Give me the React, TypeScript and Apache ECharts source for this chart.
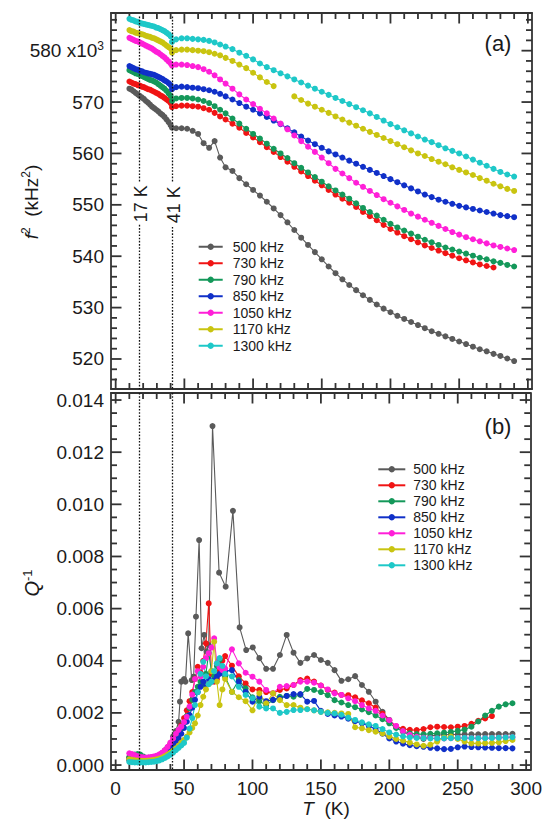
import React, { useEffect, useRef } from 'react';
import * as echarts from 'echarts';

const FONT = '"Liberation Sans", Arial, Helvetica, sans-serif';
const INK = '#1a1a1a';
const AX = '#333333';

const seriesNames = ['500 kHz', '730 kHz', '790 kHz', '850 kHz', '1050 kHz', '1170 kHz', '1300 kHz'];
const seriesColors = ['#5a5a5a', '#f01414', '#14985a', '#1030c8', '#ff1fd8', '#c9c410', '#1ec8c8'];

// ---------- panel (a): f^2 in 10^3 kHz^2 ----------
const tTop = [
  10, 11.5, 13, 14.5, 16, 17.5, 19, 20.5, 22, 23.5, 25, 26.5, 28, 29.5, 31, 32.5, 34, 35.5, 37, 38.5, 40, 41,
  44, 48, 52, 56, 60, 64, 68, 72, 76, 80, 85, 90, 95, 100, 105, 110, 115, 120, 125, 130, 135, 140, 145, 150,
  155, 160, 165, 170, 175, 180, 185, 190, 195, 200, 205, 210, 215, 220, 225, 230, 235, 240, 245, 250, 255, 260,
  265, 270, 275, 280, 285, 290,
];
const f2_500 = [
  572.6, 572.4, 572.1, 571.8, 571.5, 571.2, 570.9, 570.6, 570.2, 569.9, 569.5, 569.1, 568.8, 568.5, 568.2, 567.8, 567.5, 567.1, 566.6, 566.1, 565.5, 565.0,
  564.9, 564.9, 564.8, 564.4, 563.8, 562.0, 561.1, 562.4, 559.2, 557.3, 556.6, 555.2, 554.0, 552.9, 551.8, 550.6, 549.3, 548.0, 546.6, 545.1, 543.6, 542.2, 540.8, 539.4,
  538.0, 536.7, 535.5, 534.4, 533.4, 532.4, 531.5, 530.6, 529.8, 529.1, 528.4, 527.8, 527.2, 526.6, 526.0, 525.4, 524.9, 524.4, 523.9, 523.4, 522.9, 522.4,
  521.9, 521.5, 521.0, 520.6, 520.1, 519.6,
];
const f2_730 = [
  574.0, 573.8, 573.6, 573.5, 573.3, 573.2, 573.0, 572.9, 572.7, 572.5, 572.4, 572.2, 572.0, 571.8, 571.6, 571.3, 571.1, 570.8, 570.5, 570.2, 569.8, 569.0,
  569.2, 569.3, 569.3, 569.2, 569.1, 568.8, 568.5, 567.9, 567.2, 566.6, 565.8, 565.0, 564.0, 563.1, 562.2, 561.2, 560.3, 559.3, 558.4, 557.4, 556.5, 555.6, 554.7, 553.8,
  552.9, 552.0, 551.2, 550.4, 549.6, 548.6, 547.8, 547.0, 546.1, 545.3, 544.6, 543.9, 543.3, 542.7, 542.1, 541.6, 541.1, 540.6, 540.1, 539.6, 539.2, 538.8,
  538.4, 538.1, 537.8, null, null, null,
];
const f2_790 = [
  576.2, 576.0, 575.8, 575.6, 575.5, 575.3, 575.1, 574.9, 574.7, 574.5, 574.3, 574.2, 574.0, 573.8, 573.5, 573.2, 572.9, 572.6, 572.2, 571.7, 571.2, 570.2,
  570.7, 570.8, 570.8, 570.7, 570.5, 570.2, 569.8, 569.2, 568.5, 567.8, 566.8, 565.8, 564.8, 563.8, 562.9, 561.9, 560.9, 560.0, 559.1, 558.1, 557.2, 556.3, 555.4, 554.5,
  553.6, 552.8, 552.0, 551.2, 550.3, 549.4, 548.6, 547.9, 547.1, 546.3, 545.6, 545.0, 544.4, 543.8, 543.2, 542.7, 542.2, 541.7, 541.3, 540.9, 540.5, 540.1,
  539.7, 539.4, 539.0, 538.7, 538.3, 538.0,
];
const f2_850 = [
  577.0, 576.8, 576.6, 576.4, 576.3, 576.1, 576.0, 575.8, 575.7, 575.6, 575.5, 575.4, 575.3, 575.1, 574.9, 574.7, 574.5, 574.2, 574.0, 573.7, 573.3, 572.5,
  572.9, 573.0, 572.9, 572.8, 572.7, 572.5, 572.3, 572.0, 571.6, 571.1, 570.5, 569.8, 569.1, 568.5, 567.8, 567.1, 566.4, 565.7, 564.9, 564.1, 563.3, 562.5, 561.8, 561.1,
  560.4, 559.8, 559.2, 558.6, 558.0, 557.4, 556.8, 556.2, 555.6, 555.0, 554.4, 553.8, 553.2, 552.6, 552.0, 551.5, 551.0, 550.6, 550.2, 549.8, 549.5, 549.2,
  548.9, 548.6, 548.3, 548.0, 547.8, 547.6,
];
const f2_1050 = [
  582.5, 582.3, 582.1, 581.9, 581.8, 581.6, 581.4, 581.2, 581.0, 580.8, 580.6, 580.4, 580.1, 579.8, 579.6, 579.3, 579.0, 578.7, 578.3, 577.9, 577.5, 577.1,
  577.3, 577.3, 577.2, 577.0, 576.8, 576.4, 575.9, 575.2, 574.4, 573.6, 572.6, 571.5, 570.5, 569.6, 568.7, 567.8, 566.8, 565.8, 564.7, 563.5, 562.4, 561.3, 560.3, 559.2,
  558.1, 557.0, 556.1, 555.2, 554.3, 553.5, 552.7, 551.9, 551.1, 550.4, 549.7, 549.0, 548.3, 547.7, 547.1, 546.5, 545.9, 545.3, 544.7, 544.2, 543.7, 543.3,
  542.9, 542.5, 542.1, 541.8, 541.5, 541.2,
];
const f2_1170 = [
  584.0, 583.8, 583.7, 583.5, 583.4, 583.3, 583.2, 583.1, 582.9, 582.8, 582.7, 582.5, 582.4, 582.2, 582.0, 581.8, 581.6, 581.3, 581.0, 580.7, 580.4, 579.6,
  580.1, 580.2, 580.2, 580.1, 580.0, 579.9, 579.7, 579.4, 579.1, 578.6, 578.0, 577.3, 576.6, 575.7, 574.8, 573.9, 573.1, null, null, 571.1, 570.4, 569.7, 569.1, 568.5,
  567.9, 567.2, 566.6, 566.0, 565.4, 564.8, 564.2, 563.6, 563.0, 562.4, 561.8, 561.2, 560.6, 560.0, 559.5, 558.9, 558.4, 557.9, 557.3, 556.8, 556.3, 555.8,
  555.2, 554.7, 554.1, 553.6, 553.1, 552.7,
];
const f2_1300 = [
  586.2, 586.0, 585.9, 585.7, 585.6, 585.4, 585.3, 585.2, 585.1, 585.0, 584.9, 584.8, 584.7, 584.5, 584.4, 584.2, 584.0, 583.8, 583.5, 583.2, 582.8, 581.7,
  582.2, 582.4, 582.4, 582.3, 582.2, 582.1, 581.9, 581.6, 581.2, 580.8, 580.3, 579.6, 579.0, 578.3, 577.5, 576.8, 576.2, 575.6, 575.0, 574.4, 573.8, 573.2, 572.6, 572.0,
  571.4, 570.8, 570.2, 569.6, 569.0, 568.4, 567.8, 567.1, 566.4, 565.7, 565.1, 564.5, 563.9, 563.3, 562.7, 562.2, 561.6, 561.0, 560.5, 560.0, 559.4, 558.8,
  558.2, 557.6, 557.0, 556.4, 555.9, 555.5,
];
const topValues = [f2_500, f2_730, f2_790, f2_850, f2_1050, f2_1170, f2_1300];

// ---------- panel (b): Q^-1 in units of 10^-3 ----------
const qT500 = [
  10, 12, 14, 16, 18, 20, 22, 24, 26, 28, 30, 32, 34, 36, 38, 40, 42, 44,
  46, 47, 48, 50, 51, 53, 55.6, 57, 58.7, 61, 62.8, 64.7, 66.4, 68, 70.8, 75.6, 80.4, 85.7, 90.6, 95.4, 100.2,
  105, 110, 115, 120, 125, 130, 135, 140, 145, 150, 155, 160, 165, 170, 175, 180, 185, 190, 195, 200,
  205, 210, 215, 220, 225, 230, 235, 240, 245, 250, 255, 260, 265, 270, 275, 280, 285, 290,
];
const q500 = [
  0.19, 0.2, 0.22, 0.24, 0.25, 0.26, 0.27, 0.28, 0.29, 0.3, 0.33, 0.37, 0.45, 0.56, 0.68, 0.8, 1.1, 1.3,
  1.66, 2.43, 3.2, 3.3, 3.2, 5.05, 3.26, 3.39, 5.69, 8.63, 4.48, 4.99, 4.35, 4.6, 13.0, 7.38, 6.84, 9.75, 5.28, 4.41, 4.51,
  4.1, 3.69, 3.69, 4.22, 4.99, 4.31, 3.92, 4.09, 4.22, 4.03, 3.92, 3.64, 3.23, 3.29, 3.41, 3.07, 2.81, 2.43, 2.04, 1.73,
  1.45, 1.28, 1.15, 1.06, 1.0, 1.12, 1.15, 1.16, 1.17, 1.17, 1.18, 1.18, 1.18, 1.19, 1.19, 1.19, 1.19, 1.2,
];
const qT = [
  10, 12, 14, 16, 18, 20, 22, 24, 26, 28, 30, 32, 34, 36, 38, 40, 42, 44,
  46, 48, 50, 52, 54, 56, 58, 60, 62, 64, 66, 68, 70, 72, 74, 76, 78, 80,
  85, 90, 95, 100, 105, 110, 115, 120, 125, 130, 135, 140, 145, 150, 155, 160, 165, 170, 175, 180,
  185, 190, 195, 200, 205, 210, 215, 220, 225, 230, 235, 240, 245, 250, 255, 260, 265, 270, 275, 280, 285, 290,
];
const q730 = [
  0.3, 0.28, 0.26, 0.25, 0.24, 0.24, 0.24, 0.25, 0.27, 0.3, 0.33, 0.38, 0.45, 0.54, 0.65, 0.78, 0.92, 1.08,
  1.28, 1.52, 1.8, 2.1, 2.45, 2.8, 3.3, 3.77, 3.55, 4.0, 4.67, 6.2, 3.5, 3.2, 3.3, 3.6, 4.0, 4.18,
  3.81, 3.4, 3.13, 2.9, 2.88, 2.8, 2.75, 2.88, 2.94, 3.07, 3.26, 3.32, 3.2, 3.05, 2.88, 2.78, 2.69, 2.68, 2.6, 2.48,
  2.37, 2.2, 1.97, 1.7, 1.48, 1.39, 1.35, 1.34, 1.38, 1.45, 1.47, 1.46, 1.45, 1.47, 1.5, 1.58, 1.7, 1.79, 1.88, null, null, null,
];
const q790 = [
  0.3, 0.35, 0.4, 0.42, 0.4, 0.33, 0.28, 0.26, 0.26, 0.28, 0.3, 0.34, 0.4, 0.48, 0.58, 0.7, 0.84, 1.0,
  1.18, 1.4, 1.62, 1.88, 2.18, 2.5, 2.8, 3.0, 3.2, 3.07, 3.5, 4.3, 3.6, 3.4, 3.8, 4.03, 3.7, 3.39,
  2.81, 3.26, 2.94, 2.6, 2.45, 2.3, 2.49, 2.62, 2.65, 2.62, 2.69, 2.92, 2.88, 2.8, 2.68, 2.49, 2.4, 2.3, 2.22, 2.13,
  2.03, 1.9, 1.76, 1.6, 1.42, 1.3, 1.22, 1.19, 1.18, 1.2, 1.22, 1.24, 1.27, 1.31, 1.36, 1.47, 1.67, 1.9, 2.08, 2.24, 2.33, 2.37,
];
const q850 = [
  0.2, 0.18, 0.17, 0.16, 0.16, 0.16, 0.17, 0.18, 0.2, 0.22, 0.25, 0.29, 0.34, 0.41, 0.5, 0.6, 0.72, 0.86,
  1.02, 1.2, 1.42, 1.66, 1.92, 2.2, 2.5, 2.8, 3.0, 3.2, 3.1, 3.3, 3.2, 3.25, 3.4, 3.5, 3.55, 3.6,
  3.64, 3.2, 2.81, 2.43, 2.62, 2.45, 2.5, 2.55, 2.65, 2.72, 2.72, 2.43, 2.46, 2.08, 1.96, 1.9, 1.86, 1.78, 1.68, 1.6,
  1.5, 1.38, 1.2, 1.02, 0.9, 0.82, 0.76, 0.72, 0.7, 0.66, 0.64, 0.61, 0.62, 0.68, 0.71, 0.69, 0.68, 0.67, 0.66, 0.65, 0.65, 0.64,
];
const q1050 = [
  0.45, 0.42, 0.38, 0.34, 0.31, 0.3, 0.29, 0.3, 0.31, 0.33, 0.36, 0.41, 0.48, 0.57, 0.7, 0.86, 1.02, 1.2,
  1.35, 1.47, 1.65, 1.85, 2.24, 2.7, 3.3, 3.6, 3.4, 3.77, 4.1, 4.29, 4.5, 4.86, 3.9, 3.75, 3.64, 3.7,
  4.44, 3.9, 3.54, 3.39, 3.2, 2.88, 2.75, 3.0, 3.03, 3.07, 3.2, 3.2, 3.16, 3.05, 2.9, 2.75, 2.69, 2.56, 2.45, 2.3,
  2.17, 2.08, 1.9, 1.72, 1.5, 1.3, 1.16, 1.08, 1.05, 1.03, 1.02, 1.02, 1.03, 1.04, 1.04, 1.03, 1.03, 1.03, 1.04, 1.05, 1.06, 1.07,
];
const q1170 = [
  0.22, 0.2, 0.18, 0.17, 0.16, 0.16, 0.16, 0.17, 0.18, 0.2, 0.22, 0.25, 0.29, 0.34, 0.4, 0.47, 0.55, 0.64,
  0.75, 0.86, 0.97, 1.09, 1.25, 1.42, 1.6, 1.9, 2.3, 2.62, 2.9, 3.1, 3.6, 4.73, 3.2, 2.3, 2.9, 3.3,
  2.81, 2.6, 2.45, 2.1, 2.75, 2.37, 2.75, 2.49, 2.3, 2.3, 2.2, 2.15, 2.1, 2.04, 2.02, 2.0, 1.98, 1.96, 1.45, 1.41,
  1.34, 1.28, 1.21, 1.1, 1.0, 0.94, 0.86, 0.79, 0.74, 0.78, 0.9, 1.05, 1.09, 1.0, 0.9, 0.83, 0.83, 0.84, 0.85, 0.87, 0.92, 0.96,
];
const q1300 = [
  0.12, 0.11, 0.1, 0.1, 0.1, 0.1, 0.1, 0.11, 0.12, 0.13, 0.15, 0.18, 0.22, 0.27, 0.33, 0.4, 0.48, 0.57,
  0.66, 0.75, 0.85, 1.05, 1.4, 1.8, 2.3, 2.8, 3.5, 3.96, 3.4, 3.1, 3.2, 3.6, 3.9, 4.1, 3.8, 3.5,
  3.4, 3.0, 2.69, 2.56, 2.24, 2.17, 2.17, 2.0, 2.04, 2.11, 2.11, 2.14, 2.1, 2.04, 2.0, 1.98, 1.93, 1.82, 1.73, 1.64,
  1.56, 1.5, 1.38, 1.25, 1.17, 1.1, 1.06, 1.04, 1.03, 1.02, 1.02, 1.02, 1.03, 1.04, 1.04, 1.03, 1.03, 1.03, 1.04, 1.05, 1.06, 1.07,
];
const bottomT = [qT500, qT, qT, qT, qT, qT, qT];
const bottomValues = [q500, q730, q790, q850, q1050, q1170, q1300];

// tick positions (major / minor)
const tMajorTicks = [0, 50, 100, 150, 200, 250, 300];
const tMinorTicks = [
  10, 20, 30, 40, 60, 70, 80, 90, 110, 120, 130, 140, 160, 170, 180, 190, 210, 220, 230, 240, 260, 270, 280, 290,
];
const fMajorTicks = [520, 530, 540, 550, 560, 570, 580];
const fMinorTicks = [516, 518, 522, 524, 526, 528, 532, 534, 536, 538, 542, 544, 546, 548, 552, 554, 556, 558, 562, 564, 566, 568, 572, 574, 576, 578, 582, 584, 586];
const qMajorTicks = [0, 2, 4, 6, 8, 10, 12, 14];
const qMinorTicks = [0.5, 1, 1.5, 2.5, 3, 3.5, 4.5, 5, 5.5, 6.5, 7, 7.5, 8.5, 9, 9.5, 10.5, 11, 11.5, 12.5, 13, 13.5];

// transition markers
const markTemps = [17, 41];
const markLabels = ['17 K', '41 K'];
const markGapTop = [554.3, 554.3];
const markGapBottom = [546.1, 545.7];

// axis extents
const xMin = -3.4;
const xMax = 303;
const fMin = 514.16;
const fMax = 587.33;
const qMin = -0.19;
const qMax = 14.27;

const MAJOR_LEN = 10.5;
const MINOR_LEN = 6;

function pairs(ts: number[], vs: (number | null)[]) {
  return ts.map((t, i) => [t, vs[i] == null ? '-' : vs[i]]);
}

const frameLine = { show: true, onZero: false, lineStyle: { color: AX, width: 1.8 } };

function xAxisDef(gridIndex: number, position: string, labels: boolean) {
  return {
    type: 'value',
    gridIndex,
    position,
    min: xMin,
    max: xMax,
    splitNumber: 6,
    axisLine: frameLine,
    axisTick: { show: false },
    axisLabel: labels
      ? { show: true, fontSize: 19, fontFamily: FONT, color: INK, margin: 9, showMinLabel: false, showMaxLabel: false }
      : { show: false },
    splitLine: { show: false },
  };
}

function yAxisDef(gridIndex: number, position: string, min: number, max: number, label: any) {
  return {
    type: 'value',
    gridIndex,
    position,
    min,
    max,
    splitNumber: 7,
    axisLine: frameLine,
    axisTick: { show: false },
    axisLabel: label || { show: false },
    splitLine: { show: false },
  };
}

const topLabel = {
  show: true,
  margin: 7,
  showMinLabel: false,
  showMaxLabel: false,
  formatter: (v: number) => (Math.round(v) === 580 ? '{n|580 x10}{s|3}' : '{n|' + Math.round(v) + '}'),
  rich: {
    n: { fontSize: 19, fontFamily: FONT, color: INK, lineHeight: 22 },
    s: { fontSize: 12, fontFamily: FONT, color: INK, lineHeight: 12, verticalAlign: 'top' },
  },
};
const bottomLabel = {
  show: true,
  margin: 7,
  fontSize: 19,
  fontFamily: FONT,
  color: INK,
  showMinLabel: false,
  showMaxLabel: false,
  formatter: (v: number) => (v / 1000).toFixed(3),
};

export default function App() {
  const ref = useRef<HTMLDivElement>(null);

  useEffect(() => {
    if (!ref.current) return;
    document.body.style.margin = '0';
    const chart = echarts.init(ref.current, null, { renderer: 'svg' });

    const dotted = { color: '#111', type: [1.6, 1.6], width: 1.3 };
    const topMarks: any[] = [];
    markTemps.forEach((t, i) => {
      topMarks.push([{ coord: [t, fMax - 0.7] }, { coord: [t, markGapTop[i]] }]);
      topMarks.push([{ coord: [t, markGapBottom[i]] }, { coord: [t, fMin] }]);
    });
    const bottomMarks = markTemps.map((t) => [{ coord: [t, qMax] }, { coord: [t, qMin] }]);

    const series: any[] = [];
    seriesNames.forEach((name, k) => {
      series.push({
        name,
        type: 'line',
        xAxisIndex: 0,
        yAxisIndex: 0,
        data: pairs(tTop, topValues[k]),
        symbol: 'circle',
        symbolSize: 6,
        showSymbol: true,
        connectNulls: false,
        silent: true,
        lineStyle: { width: 1.1, color: seriesColors[k] },
        itemStyle: { color: seriesColors[k] },
        markLine:
          k === 0
            ? { silent: true, symbol: 'none', label: { show: false }, lineStyle: dotted, data: topMarks, animation: false }
            : undefined,
      });
    });
    seriesNames.forEach((name, k) => {
      series.push({
        name,
        type: 'line',
        xAxisIndex: 2,
        yAxisIndex: 2,
        data: pairs(bottomT[k], bottomValues[k]),
        symbol: 'circle',
        symbolSize: 6,
        showSymbol: true,
        connectNulls: false,
        silent: true,
        lineStyle: { width: 1.1, color: seriesColors[k] },
        itemStyle: { color: seriesColors[k] },
        markLine:
          k === 0
            ? { silent: true, symbol: 'none', label: { show: false }, lineStyle: dotted, data: bottomMarks, animation: false }
            : undefined,
      });
    });

    const legendBase = {
      data: seriesNames,
      orient: 'vertical',
      itemGap: 0,
      padding: 0,
      itemHeight: 8,
      selectedMode: false,
    };

    const option: any = {
      animation: false,
      backgroundColor: '#ffffff',
      grid: [
        { left: 111, right: 13, top: 13, height: 376, show: false },
        { left: 111, right: 13, top: 393, height: 377, show: false },
      ],
      xAxis: [
        xAxisDef(0, 'bottom', false),
        xAxisDef(0, 'top', false),
        xAxisDef(1, 'bottom', true),
        xAxisDef(1, 'top', false),
      ],
      yAxis: [
        yAxisDef(0, 'left', fMin, fMax, topLabel),
        yAxisDef(0, 'right', fMin, fMax, null),
        yAxisDef(1, 'left', qMin, qMax, bottomLabel),
        yAxisDef(1, 'right', qMin, qMax, null),
      ],
      legend: [
        {
          ...legendBase,
          left: 197.7,
          top: 238.5,
          itemWidth: 24,
          textStyle: { fontSize: 14, fontFamily: FONT, color: INK, lineHeight: 16.5, padding: [0, 0, 0, 5] },
        },
        {
          ...legendBase,
          left: 377.3,
          top: 461.3,
          itemWidth: 27,
          textStyle: { fontSize: 14, fontFamily: FONT, color: INK, lineHeight: 16, padding: [0, 0, 0, 3] },
        },
      ],
      series,
    };
    chart.setOption(option);

    const elements: any[] = [];

    // inward ticks on all four sides of both panels, placed through the axes' scales
    const px = (axisIndex: number, v: number) => chart.convertToPixel({ xAxisIndex: axisIndex } as any, v) as unknown as number;
    const py = (axisIndex: number, v: number) => chart.convertToPixel({ yAxisIndex: axisIndex } as any, v) as unknown as number;
    const tick = (x1: number, y1: number, x2: number, y2: number) =>
      elements.push({ type: 'line', shape: { x1, y1, x2, y2 }, style: { stroke: AX, lineWidth: 1.8 } });
    const panels = [
      { ai: 0, lo: fMin, hi: fMax, yMaj: fMajorTicks, yMin: fMinorTicks },
      { ai: 2, lo: qMin, hi: qMax, yMaj: qMajorTicks, yMin: qMinorTicks },
    ];
    panels.forEach((p) => {
      const yb = py(p.ai, p.lo);
      const yt = py(p.ai, p.hi);
      const xl = px(p.ai, xMin);
      const xr = px(p.ai, xMax);
      const xt = (vals: number[], len: number) =>
        vals.forEach((v) => {
          const x = px(p.ai, v);
          tick(x, yb, x, yb - len);
          tick(x, yt, x, yt + len);
        });
      const yt2 = (vals: number[], len: number) =>
        vals.forEach((v) => {
          const y = py(p.ai, v);
          tick(xl, y, xl + len, y);
          tick(xr, y, xr - len, y);
        });
      xt(tMajorTicks, MAJOR_LEN);
      xt(tMinorTicks, MINOR_LEN);
      yt2(p.yMaj, MAJOR_LEN);
      yt2(p.yMin, MINOR_LEN);
    });

    markTemps.forEach((t, i) => {
      const x = px(0, t);
      const y = py(0, (markGapTop[i] + markGapBottom[i]) / 2);
      elements.push({
        type: 'text',
        x: x + 1.5,
        y,
        rotation: Math.PI / 2,
        style: {
          text: markLabels[i],
          fontSize: 18,
          fontFamily: FONT,
          fill: INK,
          align: 'center',
          verticalAlign: 'middle',
        },
      });
    });
    const richBase = {
      n: { fontSize: 19, fontFamily: FONT, fill: INK, lineHeight: 22 },
      i: { fontSize: 19, fontFamily: FONT, fontStyle: 'italic', fill: INK, lineHeight: 22 },
      s: { fontSize: 12, fontFamily: FONT, fill: INK, lineHeight: 12, verticalAlign: 'top' },
    };
    elements.push({
      type: 'text',
      x: 31,
      y: 202,
      rotation: Math.PI / 2,
      style: { text: '{i|f}{s|2}{n|  (kHz}{s|2}{n|)}', rich: richBase, align: 'center', verticalAlign: 'middle' },
    });
    elements.push({
      type: 'text',
      x: 32,
      y: 583,
      rotation: Math.PI / 2,
      style: {
        text: '{i|Q}{s|-1}',
        rich: {
          i: { fontSize: 20, fontFamily: FONT, fontStyle: 'italic', fill: INK, lineHeight: 22 },
          s: { fontSize: 13, fontFamily: FONT, fill: INK, lineHeight: 12, verticalAlign: 'top' },
        },
        align: 'center',
        verticalAlign: 'middle',
      },
    });
    elements.push({
      type: 'text',
      x: 326,
      y: 808,
      style: { text: '{i|T}{n|  (K)}', rich: richBase, align: 'center', verticalAlign: 'middle' },
    });
    elements.push({
      type: 'text',
      x: 498,
      y: 43,
      style: { text: '(a)', fontSize: 22, fontFamily: FONT, fill: INK, align: 'center', verticalAlign: 'middle' },
    });
    elements.push({
      type: 'text',
      x: 498,
      y: 426,
      style: { text: '(b)', fontSize: 22, fontFamily: FONT, fill: INK, align: 'center', verticalAlign: 'middle' },
    });
    chart.setOption({ graphic: { elements } });

    return () => {
      chart.dispose();
    };
  }, []);

  return (
    <div
      ref={ref}
      style={{ position: 'absolute', left: 0, top: 0, width: 545, height: 820, background: '#ffffff' }}
    />
  );
}
